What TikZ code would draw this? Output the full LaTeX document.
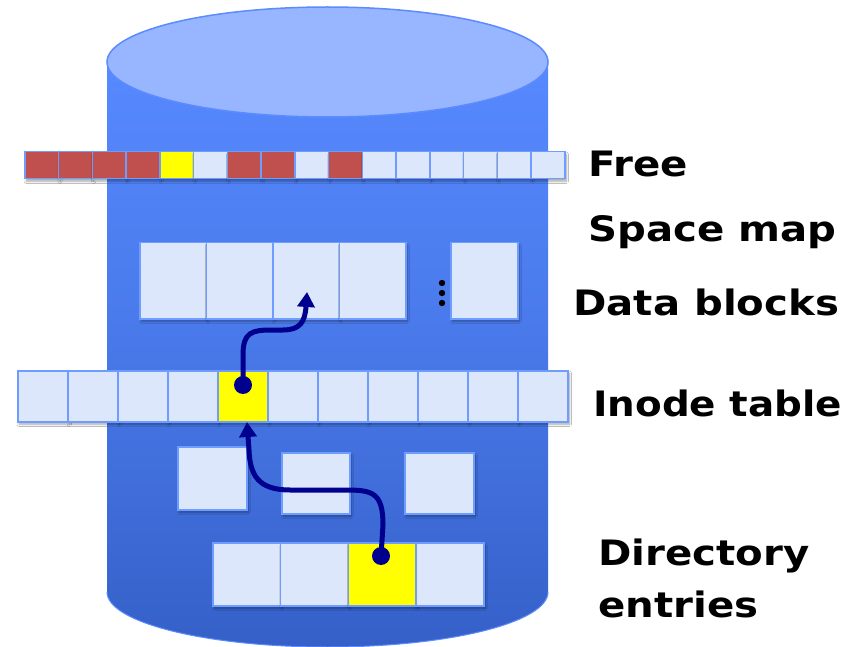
\documentclass[tikz,border=0pt]{standalone}
\usepackage{fontspec}
\setmainfont{DejaVu Sans}
\usetikzlibrary{arrows.meta,shadows.blur}

\definecolor{cR}{HTML}{C0504D}
\definecolor{cY}{HTML}{FFFF00}
\definecolor{cL}{HTML}{DDE7FC}
\definecolor{cellEdge}{HTML}{6F9CFF}
\definecolor{bodyTop}{HTML}{5789FF}
\definecolor{bodyMid}{HTML}{4878E8}
\definecolor{bodyBot}{HTML}{3560C8}
\definecolor{lidFill}{HTML}{97B6FF}
\definecolor{lidEdge}{HTML}{5B8BFF}
\definecolor{pointer}{HTML}{00008F}

\newcommand{\widetext}[2][1.15]{\scalebox{#1}[1]{#2}}

\tikzset{
  cell/.style={draw=cellEdge, line width=1.5pt, inner sep=0pt, anchor=north west,
    blur shadow={shadow xshift=1.5pt, shadow yshift=-2.5pt, shadow opacity=35, shadow blur steps=6}},
  link/.style={draw=pointer, line width=5pt, -{Triangle[width=17pt,length=15pt]}},
  hole/.style={circle, fill=pointer, inner sep=0pt, minimum size=18pt},
  caption/.style={anchor=base west, inner sep=0pt, font=\bfseries\fontsize{35}{40}\selectfont}
}

\begin{document}
\begin{tikzpicture}[x=1pt, y=-1pt]
  \clip (0,0) rectangle (849,647);
  \fill[white] (0,0) rectangle (849,647);

  % disk body
  \shade[top color=bodyTop, bottom color=bodyBot, middle color=bodyMid]
    (107,62) -- (107,592) arc[start angle=180, end angle=0, x radius=220.5, y radius=55]
    -- (548,62) -- cycle;
  \draw[lidEdge, line width=1pt]
    (107,592) arc[start angle=180, end angle=0, x radius=220.5, y radius=55];
  % disk lid
  \draw[fill=lidFill, draw=lidEdge, line width=1.5pt] (327.5,62) ellipse [x radius=220.5, y radius=55];

  % free space map
  \foreach \c [count=\i from 0] in {R,R,R,R,Y,L,R,R,L,R,L,L,L,L,L,L}
    \node[cell, fill=c\c, minimum width=33.75pt, minimum height=27pt] (fs\i) at ({24+33.75*\i},151) {};

  % data blocks
  \foreach \i in {0,...,3}
    \node[cell, fill=cL, minimum width=66.5pt, minimum height=76pt] (db\i) at ({139+66.5*\i},242) {};
  \node[cell, fill=cL, minimum width=67pt, minimum height=76pt] (db4) at (450,242) {};
  \foreach \yy [count=\k] in {283,293,303}
    \fill (442,\yy) circle (3.2pt) coordinate (ellip\k);

  % inode table
  \foreach \c [count=\i from 0] in {L,L,L,L,Y,L,L,L,L,L,L}
    \node[cell, fill=c\c, minimum width=50pt, minimum height=51pt] (in\i) at ({17+50*\i},370) {};

  % directory blocks
  \node[cell, fill=cL, minimum width=69pt, minimum height=63pt] (mb0) at (177,446) {};
  \node[cell, fill=cL, minimum width=68pt, minimum height=61pt] (mb1) at (281,452) {};
  \node[cell, fill=cL, minimum width=69pt, minimum height=61pt] (mb2) at (404,452) {};

  % directory entries
  \foreach \c [count=\i from 0] in {L,L,Y,L}
    \node[cell, fill=c\c, minimum width=67.75pt, minimum height=63pt] (de\i) at ({212+67.75*\i},542) {};

  % pointers: directory entry -> inode -> data block
  \node[hole] (dptr) at (381,556) {};
  \node[hole] (iptr) at (243,385) {};
  \coordinate (itarget) at (247,422);
  \coordinate (dtarget) at (307,292);

  \path[link] (dptr.center) -- (383,525)
    .. controls (383,492) and (372,490) .. (345,490) -- (290,490)
    .. controls (258,490) and (250,475) .. (249,450) -- (itarget);
  \path[link] (iptr.center) -- (243,355)
    .. controls (243,332) and (252,330) .. (272,330) -- (283,330)
    .. controls (300,330) and (305,322) .. (dtarget);

  % labels
  \node[caption] (lfree) at (588,177) {\widetext{Free}};
  \node[caption] (lspace) at (588,242) {\widetext{Space map}};
  \node[caption] (ldata) at (573,315) {\widetext{Data blocks}};
  \node[caption] (linode) at (593,416) {\widetext[1.11]{Inode table}};
  \node[caption] (ldir) at (598,565) {\widetext{Directory}};
  \node[caption] (lent) at (598,617) {\widetext{entries}};
\end{tikzpicture}
\end{document}
